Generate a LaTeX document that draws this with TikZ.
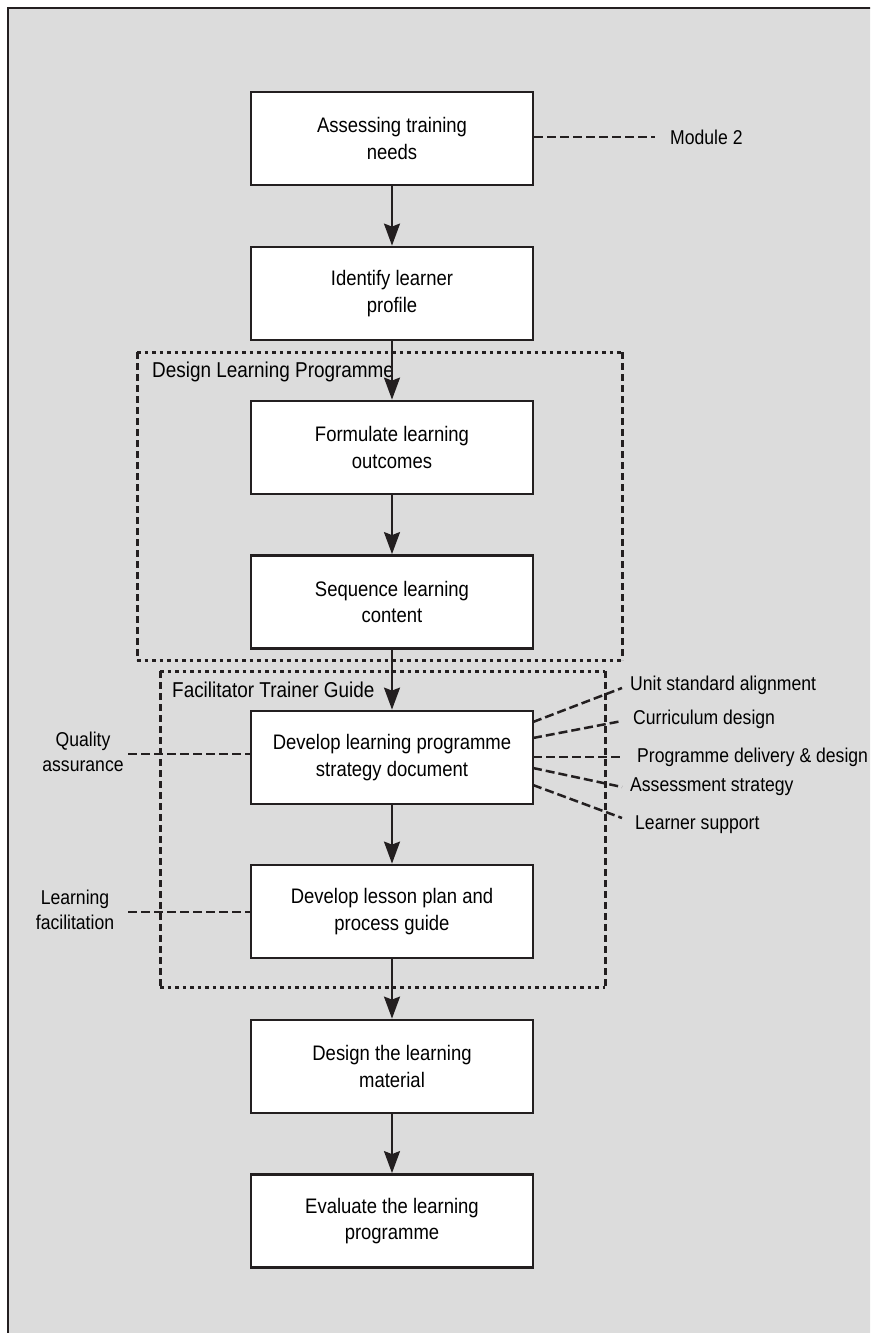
\documentclass[tikz,border=0pt]{standalone}
\usepackage{fontspec}
\setmainfont{Liberation Sans}[FakeStretch=0.88]
\usetikzlibrary{arrows.meta}
\definecolor{bg}{HTML}{DCDCDC}
\definecolor{ink}{HTML}{231F20}
\begin{document}
\begin{tikzpicture}[x=1pt,y=-1pt,
  box/.style={draw=ink, line width=2.8pt, fill=white, minimum width=282pt, minimum height=93pt, align=center, inner sep=0pt, font=\fontsize{21}{26.7}\selectfont},
  lbl/.style={font=\fontsize{20}{25}\selectfont, inner sep=0pt, text=black, align=center},
  grp/.style={font=\fontsize{21.5}{25}\selectfont, inner sep=0pt, text=black},
  flow/.style={draw=ink, line width=2.2pt, -{Stealth[length=22pt,width=16pt,inset=3pt]}},
  link/.style={draw=ink, line width=2.5pt, dash pattern=on 9pt off 4pt},
  hdot/.style={draw=ink, line width=3pt, dash pattern=on 3.5pt off 4pt},
  vdot/.style={draw=ink, line width=3pt, dash pattern=on 7pt off 4pt},
  frame/.style={draw=ink, line width=2.8pt}
]
\useasboundingbox (0,0) rectangle (870,1333);
\clip (0,0) rectangle (870,1333);
% background frame
\fill[bg] (8,8) rectangle (880,1345);
\draw[frame] (8,1345) -- (8,8) -- (880,8);

% dotted groups
\draw[hdot] (137,352) -- (622,352);
\draw[hdot] (137,660) -- (622,660);
\draw[vdot] (137,352) -- (137,660);
\draw[vdot] (622,352) -- (622,660);
\node[grp, anchor=west] (dlp) at (152,372) {Design Learning Programme};

\draw[hdot] (160,671) -- (605,671);
\draw[hdot] (160,987) -- (605,987);
\draw[vdot] (160,671) -- (160,987);
\draw[vdot] (605,671) -- (605,987);
\node[grp, anchor=west] (ftg) at (172,690) {Facilitator Trainer Guide};

% boxes
\node[box] (b1) at (392,138.5) {Assessing training\\needs};
\node[box] (b2) at (392,293.5) {Identify learner\\profile};
\node[box] (b3) at (392,447.5) {Formulate learning\\outcomes};
\node[box] (b4) at (392,602) {Sequence learning\\content};
\node[box] (b5) at (392,757.5) {Develop learning programme\\strategy document};
\node[box] (b6) at (392,911.5) {Develop lesson plan and\\process guide};
\node[box] (b7) at (392,1066.5) {Design the learning\\material};
\node[box] (b8) at (392,1221) {Evaluate the learning\\programme};

% flow arrows
\draw[flow] (b1.south) -- (b2.north);
\draw[flow] (b2.south) -- (b3.north);
\draw[flow] (b3.south) -- (b4.north);
\draw[flow] (b4.south) -- (b5.north);
\draw[flow] (b5.south) -- (b6.north);
\draw[flow] (b6.south) -- (b7.north);
\draw[flow] (b7.south) -- (b8.north);

% Module 2
\node[lbl, anchor=west] (mod) at (670,137) {Module 2};
\coordinate (modend) at (655,137);
\draw[link] (b1.east |- modend) -- (modend);

% left labels
\node[lbl] (qa) at (83,752) {Quality\\assurance};
\coordinate (qaend) at (128,754);
\draw[link] (qaend) -- (b5.west |- qaend);
\node[lbl] (lf) at (75,910) {Learning\\facilitation};
\coordinate (lfend) at (128,912);
\draw[link] (lfend) -- (b6.west |- lfend);

% right labels
\node[lbl, anchor=west] (usa) at (630,685) {Unit standard alignment};
\node[lbl, anchor=west] (cd) at (633,719) {Curriculum design};
\node[lbl, anchor=west] (pdd) at (637,757) {Programme delivery \& design};
\node[lbl, anchor=west] (as) at (630,787) {Assessment strategy};
\node[lbl, anchor=west] (ls) at (635,825) {Learner support};
\coordinate (u0) at (533,722); \coordinate (u1) at (622,688);
\coordinate (c0) at (533,738); \coordinate (c1) at (622,721);
\coordinate (p0) at (533,757); \coordinate (p1) at (620,757);
\coordinate (a0) at (533,768); \coordinate (a1) at (622,787);
\coordinate (l0) at (533,785); \coordinate (l1) at (622,818);
\draw[link] (u0) -- (u1);
\draw[link] (c0) -- (c1);
\draw[link] (p0) -- (p1);
\draw[link] (a0) -- (a1);
\draw[link] (l0) -- (l1);
\end{tikzpicture}
\end{document}
